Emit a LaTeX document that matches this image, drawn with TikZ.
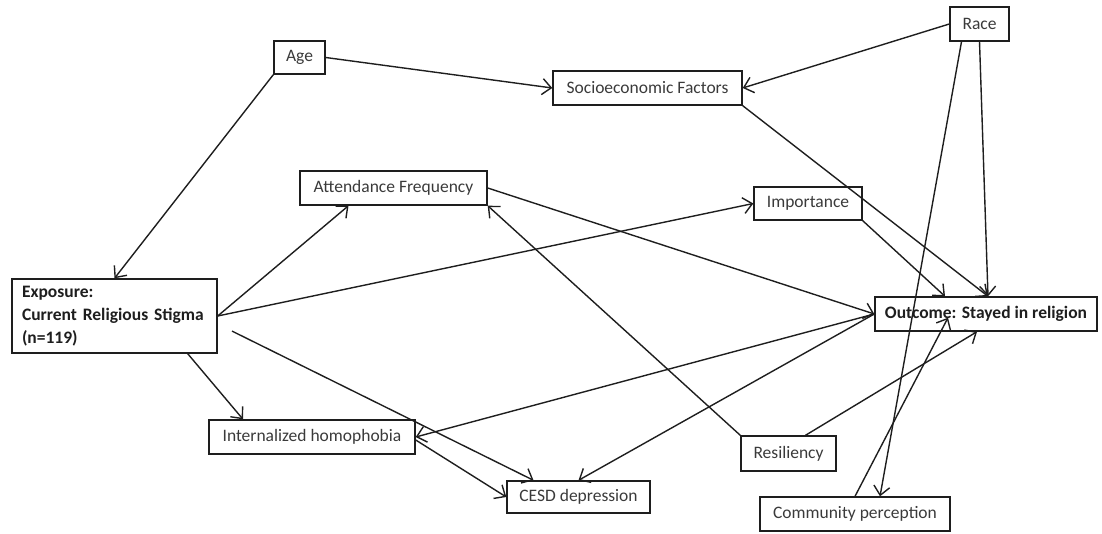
\documentclass[tikz,border=0pt]{standalone}
\usepackage{fontspec}
\setmainfont{Carlito}
\usepackage{tikz}
\usetikzlibrary{arrows.meta}
\definecolor{Ink}{HTML}{1E1E1E}
\definecolor{Label}{HTML}{3A3A3A}

\begin{document}
\begin{tikzpicture}[x=1pt,y=-1pt,
  var/.style={draw=Ink,line width=1.4pt,minimum height=34,inner sep=0pt,
    font=\fontsize{17.5}{21}\selectfont,text=Label},
  keyvar/.style={var,font=\fontsize{17.5}{23}\selectfont\bfseries,text=Ink},
  link/.style={draw=Ink,line width=1.4pt,-{Straight Barb[length=9pt,width=16pt]}}]
  \useasboundingbox (0,0) rectangle (1102,534);
  \node[var,minimum width=51,minimum height=33] (age) at (299.5,57.5) {Age};
  \node[var,minimum width=189] (socio) at (647.5,88) {Socioeconomic Factors};
  \node[var,minimum width=59] (race) at (979.5,24) {Race};
  \node[var,minimum width=187] (attend) at (393.5,188) {Attendance Frequency};
  \node[var,minimum width=108,minimum height=33] (import) at (808,203.5) {Importance};
  \node[keyvar,text width=185,inner xsep=10,minimum height=74,align=left] (expo) at (114.5,316)
    {Exposure:\\Current Religious Stigma\\(n=119)};
  \node[keyvar,minimum width=222] (outcome) at (986,314) {Outcome: Stayed in religion};
  \node[var,minimum width=206] (intho) at (312,437) {Internalized homophobia};
  \node[var,minimum width=143,minimum height=32] (cesd) at (578.5,497) {CESD depression};
  \node[var,minimum width=95,minimum height=35] (resil) at (788.5,453.5) {Resiliency};
  \node[var,minimum width=190] (commun) at (855,514) {Community perception};
  \draw[link] (age.east) -- (socio.west);
  \draw[link] (age.south west) -- (expo.north);
  \draw[link] (race.west) -- (socio.east);
  \draw[link] (race.south) -- ([xshift=2]outcome.north);
  \draw[link] ([xshift=-18]race.south) -- ([xshift=25]commun.north);
  \draw[link] (socio.south east) -- ([xshift=2]outcome.north);
  \draw[link] (import.south east) -- ([xshift=-41]outcome.north);
  \draw[link] (expo.east) -- ([xshift=-45]attend.south);
  \draw[link] (expo.east) -- (import.west);
  \draw[link] ([xshift=-30]expo.south east) -- ([xshift=-69]intho.north);
  \draw[link,shorten <=16pt] ([yshift=-8]expo.east) -- ([xshift=-45]cesd.north);
  \draw[link] (attend.east) -- (outcome.west);
  \draw[link] (resil.north west) -- (attend.south east);
  \draw[link] (outcome.west) -- (intho.east);
  \draw[link] (outcome.west) -- (cesd.north);
  \draw[link] ([yshift=-3]intho.east) -- (cesd.west);
  \draw[link] ([xshift=17]resil.north) -- ([xshift=-9]outcome.south);
  \draw[link] (commun.north) -- ([xshift=-38,yshift=14]outcome.south);
\end{tikzpicture}
\end{document}
